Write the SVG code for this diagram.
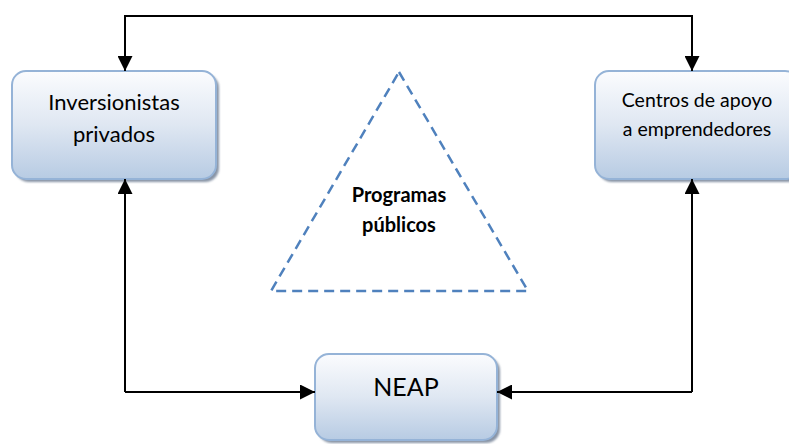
<svg xmlns="http://www.w3.org/2000/svg" width="789" height="444" viewBox="0 0 789 444">
  <defs>
    <linearGradient id="boxFill" x1="0" y1="0" x2="0" y2="1">
      <stop offset="0" stop-color="#fbfcfe"/>
      <stop offset="0.5" stop-color="#dfe7f2"/>
      <stop offset="1" stop-color="#b7cbe3"/>
    </linearGradient>
    <filter id="shadow" x="-10%" y="-10%" width="130%" height="130%">
      <feGaussianBlur stdDeviation="0.8"/>
    </filter>
    <marker id="arrow" viewBox="0 0 15 15" refX="15" refY="7.5" markerWidth="15" markerHeight="15" markerUnits="userSpaceOnUse" orient="auto">
      <path d="M0,0 L15,7.5 L0,15 Z" fill="#000"/>
    </marker>
  </defs>
  <style>
    .shadow { fill: #8894a6; filter: url(#shadow); }
    .box { fill: url(#boxFill); stroke: #95b3d7; stroke-width: 2; }
    .label { font-family: Lato, "Liberation Sans", sans-serif; fill: #000; text-anchor: middle; }
    .conn { fill: none; stroke: #000; stroke-width: 2; }
    .tri { fill: none; stroke: #4f81bd; stroke-width: 2.5; stroke-dasharray: 10 6; }
  </style>

  <rect width="789" height="444" fill="#fff"/>

  <g id="node-inversionistas">
    <rect class="shadow" x="15" y="74" width="204" height="108" rx="14"/>
    <rect class="box" x="12" y="71" width="204" height="108" rx="14"/>
    <text class="label" x="114" y="110" font-size="22">Inversionistas</text>
    <text class="label" x="114" y="142" font-size="22">privados</text>
  </g>

  <g id="node-centros">
    <rect class="shadow" x="598" y="74" width="204" height="108" rx="14"/>
    <rect class="box" x="595" y="71" width="204" height="108" rx="14"/>
    <text class="label" x="697" y="107" font-size="19.5">Centros de apoyo</text>
    <text class="label" x="697" y="136" font-size="19.5">a emprendedores</text>
  </g>

  <g id="node-neap">
    <rect class="shadow" x="318" y="357" width="182" height="86" rx="14"/>
    <rect class="box" x="315" y="354" width="182" height="86" rx="14"/>
    <text class="label" x="406" y="396" font-size="25">NEAP</text>
  </g>

  <g id="node-programas">
    <polygon class="tri" points="399,72 528,291 271,291"/>
    <text class="label" x="399" y="202" font-size="20" font-weight="bold">Programas</text>
    <text class="label" x="399" y="232" font-size="20" font-weight="bold">públicos</text>
  </g>

  <g id="connectors">
    <path class="conn" d="M692,16 L125,16 L125,71" marker-end="url(#arrow)"/>
    <path class="conn" d="M125,16 L692,16 L692,71" marker-end="url(#arrow)"/>
    <path class="conn" d="M125,392 L125,179" marker-end="url(#arrow)"/>
    <path class="conn" d="M125,392 L315,392" marker-end="url(#arrow)"/>
    <path class="conn" d="M692,392 L692,179" marker-end="url(#arrow)"/>
    <path class="conn" d="M692,392 L497,392" marker-end="url(#arrow)"/>
  </g>
</svg>
